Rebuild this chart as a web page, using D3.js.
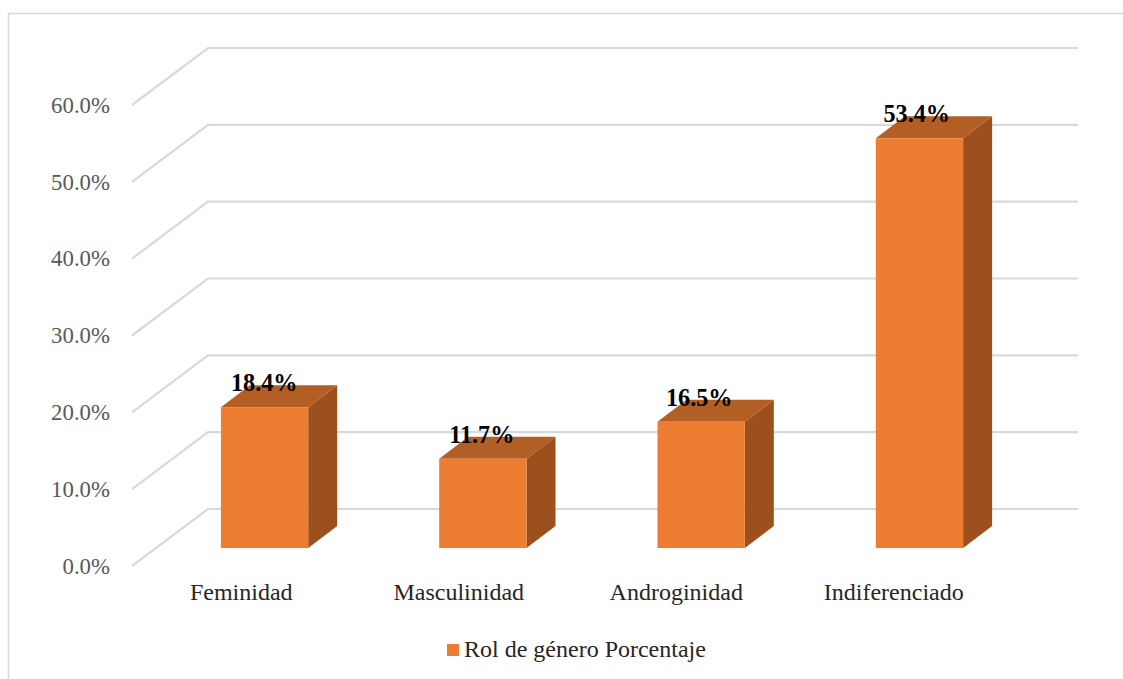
<!DOCTYPE html>
<html>
<head>
<meta charset="utf-8">
<script src="https://cdn.jsdelivr.net/npm/d3@7/dist/d3.min.js"></script>
<style>
html,body{margin:0;padding:0;background:#fff;overflow:hidden}
svg{display:block}
text{font-family:"Liberation Serif",serif}
</style>
</head>
<body>
<div id="chart"></div>
<script>
const categories = ["Feminidad", "Masculinidad", "Androginidad", "Indiferenciado"];
const values = [18.4, 11.7, 16.5, 53.4];
const valueLabels = ["18.4%", "11.7%", "16.5%", "53.4%"];
const yTicks = [0, 10, 20, 30, 40, 50, 60];
const seriesName = "Rol de género Porcentaje";

const W = 1123, H = 679;
const floorDY = 57;     // front-to-back wall offset
const barDX = 29, barDY = 22;         // depth of each bar
const barOffsetY = 39;                // bar front plane vs back wall

const svg = d3.select("#chart").append("svg").attr("width", W).attr("height", H);

// outer frame (left and top edges only are visible)
svg.append("path").attr("d", `M8.5,${H}V13.5H${W}`)
  .attr("fill", "none").attr("stroke", "#d9d9d9").attr("stroke-width", 1.6);

const yBack = d3.scaleLinear().domain([0, 60]).range([509, 48]);
const yFront = d3.scaleLinear().domain([0, 60]).range([509 + floorDY, 48 + floorDY]);
const xFloor = d3.scaleBand().domain(categories).range([132, 1002]);
const xBar = d3.scaleBand().domain(categories).range([155.4, 1028.6]).paddingInner(0.6).paddingOuter(0.3);

// gridlines on side + back wall
svg.append("g").selectAll("path").data(yTicks).join("path")
  .attr("fill", "none").attr("stroke", "#d9d9d9").attr("stroke-width", 2.2)
  .attr("d", d => `M132,${yFront(d)}L208,${yBack(d)}H1078`);

// y axis labels
const yAxis = svg.append("g").attr("transform", "translate(110,-3)")
  .call(d3.axisLeft(yFront).tickValues(yTicks).tickSize(0).tickPadding(0).tickFormat(d => d3.format(".1f")(d) + "%"));
yAxis.select(".domain").remove();
yAxis.selectAll("text").attr("font-size", 22.8).attr("fill", "#595959")
  .attr("font-family", "Liberation Serif").attr("dy", "0.45em").attr("x", 0);

// x axis labels
const xAxis = svg.append("g").attr("transform", "translate(0.5,593)")
  .call(d3.axisBottom(xFloor).tickSize(0).tickPadding(0));
xAxis.select(".domain").remove();
xAxis.selectAll("text").attr("font-size", 24).attr("fill", "#262626")
  .attr("font-family", "Liberation Serif").attr("dy", "0.28em");

// 3-D bars
const bars = svg.append("g").selectAll("g").data(categories).join("g");
const yB = (i) => yBack(values[i]) + barOffsetY + 0.6;
const base = yBack(0) + barOffsetY;
bars.append("path").attr("fill", "#9C501D")
  .attr("d", (c, i) => {
    const r = xBar(c) + xBar.bandwidth();
    return `M${r},${yB(i)}L${r + barDX},${yB(i) - barDY}V${base - barDY}L${r},${base}Z`;
  });
bars.append("path").attr("fill", "#B35E24")
  .attr("d", (c, i) => {
    const l = xBar(c), r = l + xBar.bandwidth();
    return `M${l},${yB(i)}L${l + barDX},${yB(i) - barDY}H${r + barDX}L${r},${yB(i)}Z`;
  });
bars.append("rect").attr("fill", "#ED7D31")
  .attr("x", c => xBar(c)).attr("width", xBar.bandwidth())
  .attr("y", (c, i) => yB(i)).attr("height", (c, i) => base - yB(i));

// value labels
svg.append("g").selectAll("text").data(categories).join("text")
  .attr("x", c => xFloor(c) + xFloor.bandwidth() / 2 + 23.5)
  .attr("y", (c, i) => yB(i) - 16)
  .attr("text-anchor", "middle").attr("font-size", 24.2).attr("font-weight", "bold")
  .attr("fill", "#000").text((c, i) => valueLabels[i]);

// legend
svg.append("rect").attr("x", 447).attr("y", 644).attr("width", 12).attr("height", 12).attr("fill", "#ED7D31");
svg.append("text").attr("x", 464).attr("y", 657).attr("font-size", 24).attr("fill", "#262626").text(seriesName);
</script>
</body>
</html>
